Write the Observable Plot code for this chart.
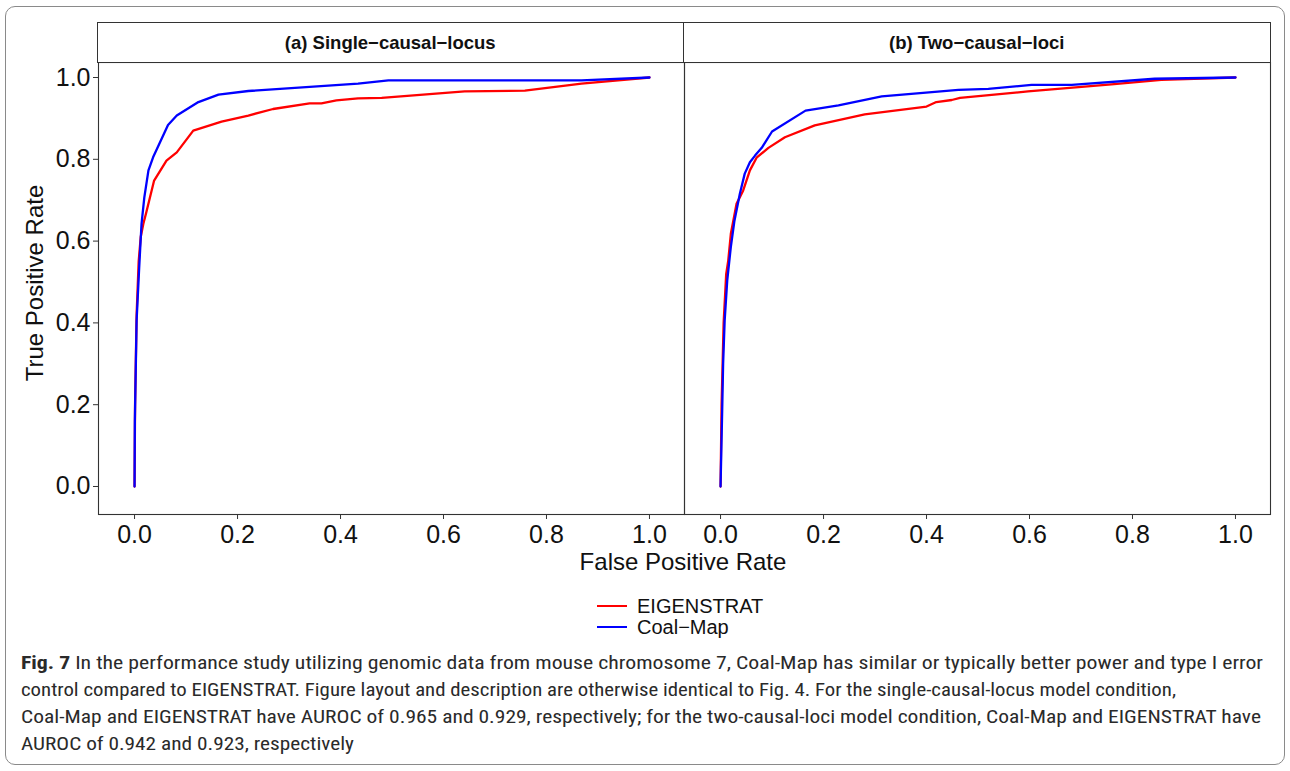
<!DOCTYPE html>
<html>
<head>
<meta charset="utf-8">
<script src="https://cdn.jsdelivr.net/npm/d3@7"></script>
<script src="https://cdn.jsdelivr.net/npm/@observablehq/plot@0.6"></script>
<style>
  html, body { margin: 0; padding: 0; background: #fff; }
  #wrap { position: relative; width: 1290px; height: 771px; overflow: hidden; font-family: "Liberation Sans", Arial, sans-serif; }
  #border { position: absolute; left: 5px; top: 6px; width: 1278px; height: 757px; border: 1.5px solid #8a8a8a; border-radius: 10px; }
  #chart { position: absolute; left: 0; top: 0; }
  .strip { position: absolute; top: 22px; height: 39px; border: 1px solid #333; background: #fff; font-weight: bold; font-size: 18.5px; line-height: 39px; text-align: center; color: #111; box-sizing: content-box; }
  .title { position: absolute; font-size: 24px; color: #111; white-space: nowrap; }
  .legend { position: absolute; font-size: 20px; color: #111; white-space: nowrap; line-height: 18px; height: 18px; }
  .key { position: absolute; width: 30px; height: 0; border-top: 2.3px solid; }
  .cap { position: absolute; left: 21px; font-family: "Liberation Sans Narrow", "Roboto Condensed", "Open Sans", "Noto Sans", sans-serif; font-size: 18.5px; color: #2a2a2a; white-space: nowrap; transform-origin: 0 50%; line-height: 27px; }
</style>
</head>
<body>
<div id="wrap">
  <div id="border"></div>
  <div id="chart"></div>
</div>
<script>
// ---- data ----
const panels = ["(a) Single−causal−locus", "(b) Two−causal−loci"];
const methods = ["EIGENSTRAT", "Coal−Map"];
const colors = ["#ff0000", "#0000ff"];
const ticks = [0, 0.2, 0.4, 0.6, 0.8, 1.0];

// panel a, EIGENSTRAT
const fprEigA = [0, 0.001, 0.004, 0.008, 0.012, 0.017, 0.023, 0.038, 0.062, 0.082, 0.114, 0.169, 0.221, 0.269, 0.340, 0.363, 0.392, 0.434, 0.480, 0.641, 0.758, 0.868, 1];
const tprEigA = [0, 0.20, 0.42, 0.55, 0.61, 0.642, 0.671, 0.748, 0.797, 0.817, 0.870, 0.892, 0.907, 0.923, 0.937, 0.937, 0.944, 0.949, 0.950, 0.966, 0.968, 0.985, 1];
// panel a, Coal-Map
const fprCoalA = [0, 0.0006, 0.004, 0.009, 0.0136, 0.019, 0.027, 0.036, 0.065, 0.082, 0.124, 0.163, 0.221, 0.434, 0.493, 0.868, 1];
const tprCoalA = [0, 0.16, 0.406, 0.535, 0.643, 0.707, 0.773, 0.805, 0.884, 0.907, 0.940, 0.958, 0.967, 0.985, 0.993, 0.993, 1];
// panel b, EIGENSTRAT
const fprEigB = [0, 0.002, 0.006, 0.011, 0.015, 0.020, 0.031, 0.044, 0.057, 0.070, 0.093, 0.125, 0.183, 0.280, 0.400, 0.419, 0.449, 0.465, 0.597, 0.759, 0.856, 1];
const tprEigB = [0, 0.20, 0.40, 0.52, 0.553, 0.618, 0.691, 0.724, 0.773, 0.804, 0.828, 0.854, 0.883, 0.910, 0.929, 0.940, 0.945, 0.950, 0.966, 0.983, 0.994, 1];
// panel b, Coal-Map
const fprCoalB = [0, 0.003, 0.005, 0.008, 0.013, 0.020, 0.027, 0.0375, 0.047, 0.057, 0.067, 0.080, 0.100, 0.165, 0.229, 0.313, 0.462, 0.520, 0.604, 0.682, 0.843, 1];
const tprCoalB = [0, 0.175, 0.30, 0.406, 0.504, 0.586, 0.65, 0.716, 0.765, 0.793, 0.809, 0.828, 0.868, 0.919, 0.932, 0.954, 0.970, 0.972, 0.982, 0.982, 0.997, 1];

const captionLines = [
  "<b>Fig. 7</b> In the performance study utilizing genomic data from mouse chromosome 7, Coal-Map has similar or typically better power and type I error",
  "control compared to EIGENSTRAT. Figure layout and description are otherwise identical to Fig. 4. For the single-causal-locus model condition,",
  "Coal-Map and EIGENSTRAT have AUROC of 0.965 and 0.929, respectively; for the two-causal-loci model condition, Coal-Map and EIGENSTRAT have",
  "AUROC of 0.942 and 0.923, respectively"
];

// ---- build table ----
function rows(panel, method, xs, ys) {
  return xs.map((x, i) => ({panel, method, fpr: x, tpr: ys[i]}));
}
const data = [
  ...rows(panels[0], methods[0], fprEigA, tprEigA),
  ...rows(panels[0], methods[1], fprCoalA, tprCoalA),
  ...rows(panels[1], methods[0], fprEigB, tprEigB),
  ...rows(panels[1], methods[1], fprCoalB, tprCoalB)
];

const W = 1290, H = 600, mL = 97, mR = 20, mT = 62, mB = 86;
const fmt = d3.format(".1f");

const chart = Plot.plot({
  width: W, height: H,
  marginLeft: mL, marginRight: mR, marginTop: mT, marginBottom: mB,
  style: {fontFamily: "'Liberation Sans', Arial, sans-serif", color: "#111", background: "transparent"},
  fx: {domain: panels, padding: 0, axis: null},
  x: {domain: [-0.07, 1.068]},
  y: {domain: [-0.0685, 1.0367]},
  color: {domain: methods, range: colors},
  marks: [
    Plot.frame({stroke: "#333", strokeWidth: 1.1}),
    Plot.line(data, {fx: "panel", x: "fpr", y: "tpr", z: "method", stroke: "method", strokeWidth: 2.3, curve: "linear"}),
    Plot.axisX({ticks, tickFormat: fmt, tickSize: 5, tickPadding: 6, fontSize: 25, label: null, stroke: "#333", fill: "#111"}),
    Plot.axisY({ticks, tickFormat: fmt, tickSize: 5, tickPadding: 3, fontSize: 25, label: null, stroke: "#333", fill: "#111"})
  ]
});
document.getElementById("chart").appendChild(chart);

const wrap = document.getElementById("wrap");
const facetW = (W - mL - mR) / panels.length;
panels.forEach((p, i) => {
  const s = document.createElement("div");
  s.className = "strip";
  s.style.left = (mL + i * facetW - 0.5) + "px";
  s.style.width = (facetW - 1) + "px";
  s.textContent = p;
  wrap.appendChild(s);
});

const xt = document.createElement("div");
xt.className = "title";
xt.textContent = "False Positive Rate";
xt.style.left = "683px"; xt.style.top = "548px"; xt.style.transform = "translateX(-50%)";
wrap.appendChild(xt);

const yt = document.createElement("div");
yt.className = "title";
yt.textContent = "True Positive Rate";
yt.style.left = "35px"; yt.style.top = "283px";
yt.style.transform = "translate(-50%,-50%) rotate(-90deg)";
wrap.appendChild(yt);

methods.forEach((m, i) => {
  const k = document.createElement("div");
  k.className = "key";
  k.style.left = "597px"; k.style.top = (605 + i * 21) + "px";
  k.style.borderTopColor = colors[i];
  wrap.appendChild(k);
  const t = document.createElement("div");
  t.className = "legend";
  t.textContent = m;
  t.style.left = "637px"; t.style.top = (597 + i * 21) + "px";
  wrap.appendChild(t);
});

const capEnds = [1263, 1176, 1261, 354];
const capEls = captionLines.map((html, i) => {
  const c = document.createElement("div");
  c.className = "cap";
  c.innerHTML = html;
  c.style.top = (650 + i * 27) + "px";
  wrap.appendChild(c);
  return c;
});
function fitCaption() {
  capEls.forEach((c, i) => {
    c.style.transform = "none";
    const w = c.getBoundingClientRect().width;
    c.style.transform = `scaleX(${(capEnds[i] - 21) / w})`;
  });
}
fitCaption();
if (document.fonts && document.fonts.ready) document.fonts.ready.then(fitCaption);
</script>
</body>
</html>
